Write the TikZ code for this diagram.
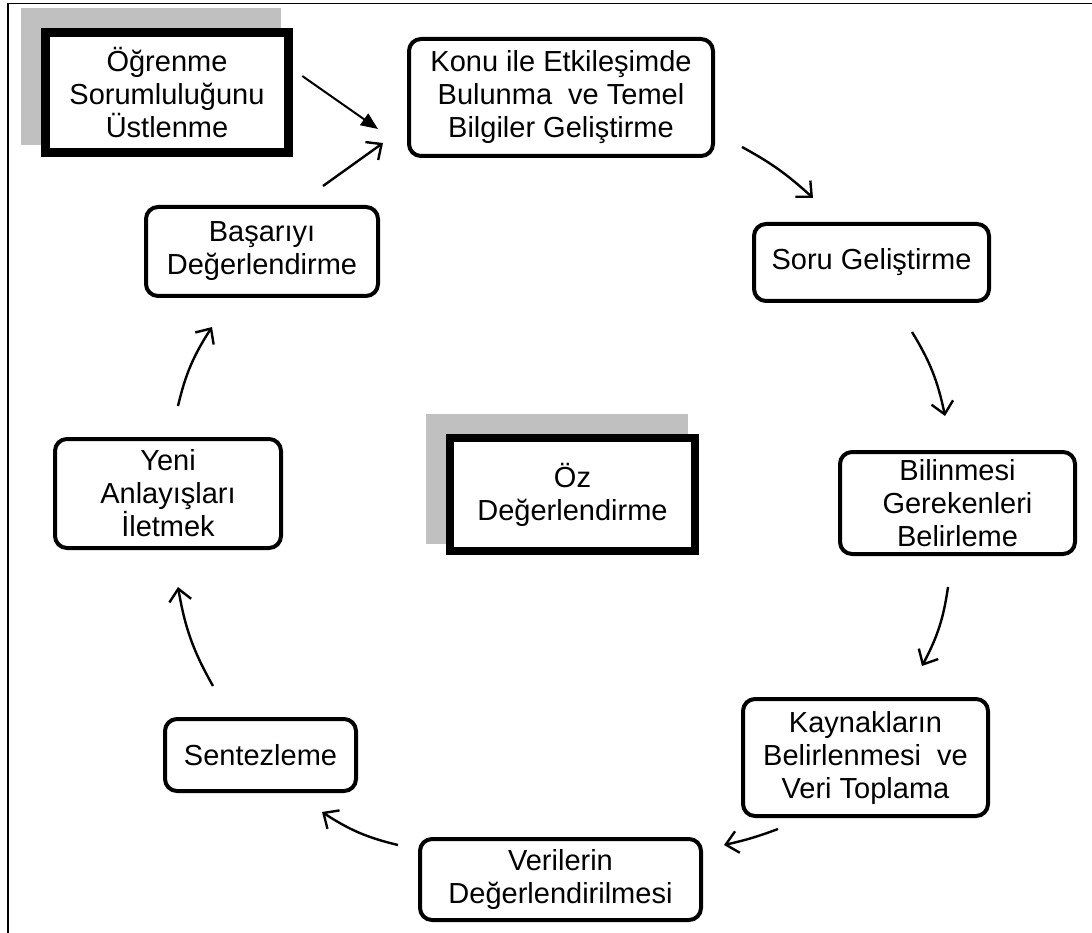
\documentclass[tikz,border=0pt]{standalone}
\usepackage{fontspec}
\setmainfont{Liberation Sans}
\usetikzlibrary{arrows.meta,calc,backgrounds,bending}
\definecolor{shadegray}{RGB}{192,192,192}
\begin{document}
\begin{tikzpicture}[x=1pt,y=-1pt,
  every node/.style={font=\fontsize{29}{33}\selectfont, align=center, inner sep=0pt},
  stepbox/.style={draw, line width=4pt, rounded corners=12pt, fill=white},
  keybox/.style={draw, line width=8.5pt, fill=white},
  flow/.style={line width=2.4pt, -{Straight Barb[length=12pt,width=22pt,line width=2.4pt]}, bend left=10},
  lead/.style={line width=2pt, -{Triangle[length=17pt,width=14pt]}},
  cast/.style={fill=shadegray}
]
\useasboundingbox (0,0) rectangle (1092,933);

% outer frame
\draw[line width=1.2pt] (8,933) -- (8,3.5) -- (1092,3.5);

% key boxes
\node[keybox, minimum width=243, minimum height=120] (ogr) at (167,92.5)
  {Öğrenme\\Sorumluluğunu\\Üstlenme};
\node[keybox, minimum width=245, minimum height=113] (oz) at (572.5,494.5)
  {Öz\\Değerlendirme};

% cycle steps
\node[stepbox, minimum width=304, minimum height=117] (konu) at (561,97.5)
  {Konu ile Etkileşimde\\Bulunma\ \ ve Temel\\Bilgiler Geliştirme};
\node[stepbox, minimum width=235, minimum height=77] (soru) at (871.5,262.5)
  {Soru Geliştirme};
\node[stepbox, minimum width=235, minimum height=102] (bil) at (957.5,503)
  {Bilinmesi\\Gerekenleri\\Belirleme};
\node[stepbox, minimum width=245, minimum height=117] (kay) at (865.5,757.5)
  {Kaynakların\\Belirlenmesi\ \ ve\\Veri Toplama};
\node[stepbox, minimum width=281, minimum height=81] (ver) at (560.5,879.5)
  {Verilerin\\Değerlendirilmesi};
\node[stepbox, minimum width=191, minimum height=72] (sent) at (260.5,755)
  {Sentezleme};
\node[stepbox, minimum width=226, minimum height=109] (yeni) at (168,493.5)
  {Yeni\\Anlayışları\\İletmek};
\node[stepbox, minimum width=232, minimum height=89] (bas) at (262,251.5)
  {Başarıyı\\Değerlendirme};

% grey offsets behind the key boxes
\begin{scope}[on background layer]
  \fill[cast] ($(ogr.north west)+(-20.25,-20.25)$) rectangle ($(ogr.south east)+(-11.75,-11.75)$);
  \fill[cast] ($(oz.north west)+(-20.25,-20.25)$) rectangle ($(oz.south east)+(-11.75,-11.75)$);
\end{scope}

% connectors
\draw[lead] ($(ogr.east)+(9.5,-16.5)$) -- ($(konu.west)+(-29,31.5)$);
\draw[flow, bend left=0] ($(bas.north)+(61,-19)$) -- ($(konu.west)+(-24,45.5)$);
\draw[flow, bend left=7] ($(konu.south east)+(27,-11)$) to ($(soru.north)+(-58.5,-24)$);
\draw[flow] ($(soru.south)+(40.5,29)$) to ($(bil.north)+(-12.5,-34)$);
\draw[flow] ($(bil.south)+(-9.5,31)$) to ($(kay.north)+(56.5,-31)$);
\draw[flow, bend left=4] ($(kay.south)+(-87.5,11)$) to ($(ver.east)+(21,-34.5)$);
\draw[flow] ($(ver.west)+(-20,-34.5)$) to ($(sent.south)+(61.5,19)$);
\draw[flow] ($(sent.north)+(-47.5,-31)$) to ($(yeni.south)+(10,37)$);
\draw[flow] ($(yeni.north)+(10,-31)$) to ($(bas.south)+(-50,29)$);
\end{tikzpicture}
\end{document}
